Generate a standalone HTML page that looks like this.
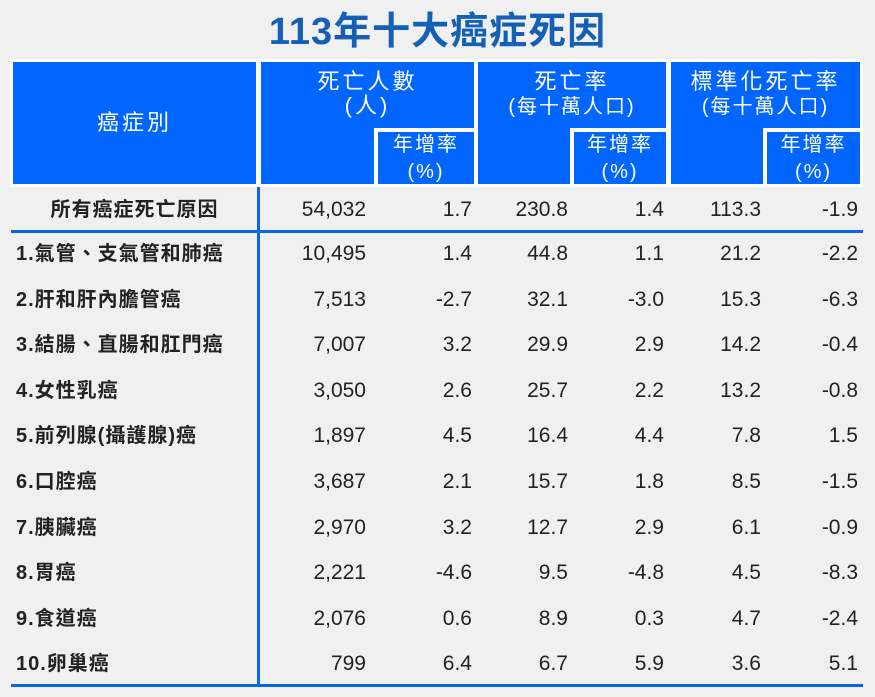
<!DOCTYPE html>
<html><head><meta charset="utf-8">
<style>
body{margin:0;width:875px;height:697px;background:#f0f0f0;font-family:"Liberation Sans","Noto Sans CJK TC",sans-serif;position:relative;overflow:hidden}
.a{position:absolute}
.title{left:0;width:875px;top:0px;text-align:center;font-size:38px;font-weight:bold;color:#1460b4;letter-spacing:1px}
.hdr{left:10px;top:59px;width:853px;height:128px;background:#fff}
.b{position:absolute;background:#0066ff;color:#fff;text-align:center;font-size:22px;line-height:24px;letter-spacing:3px}
.sb{font-size:20px;letter-spacing:2px}
.cell{position:absolute;font-size:21px;color:#222;line-height:24px}
.lbl{font-size:20px;letter-spacing:1px;font-weight:bold}
.r{text-align:right}
.line{position:absolute;background:#0a66e8}
</style></head><body>
<div class="a title">113年十大癌症死因</div>
<div class="a hdr"></div>
<div class="b" style="left:13px;top:62px;width:243px;height:122px;line-height:122px">癌症別</div>
<div class="b" style="left:261px;top:62px;width:213px;height:122px"><div style="padding-top:8px">死亡人數<br>(人)</div></div>
<div class="b" style="left:478px;top:62px;width:188px;height:122px"><div style="padding-top:8px">死亡率<br><span style="font-size:20px;letter-spacing:2px">(每十萬人口)</span></div></div>
<div class="b" style="left:671px;top:62px;width:189px;height:122px"><div style="padding-top:8px">標準化死亡率<br><span style="font-size:20px;letter-spacing:2px">(每十萬人口)</span></div></div>
<div class="a" style="left:374px;top:128px;width:103px;height:4px;background:#fff"></div>
<div class="a" style="left:374px;top:128px;width:4px;height:57px;background:#fff"></div>
<div class="b sb" style="left:378px;top:132px;width:96px;height:52px;line-height:27px">年增率<br>(%)</div>
<div class="a" style="left:570px;top:128px;width:100px;height:4px;background:#fff"></div>
<div class="a" style="left:570px;top:128px;width:4px;height:57px;background:#fff"></div>
<div class="b sb" style="left:574px;top:132px;width:92px;height:52px;line-height:27px">年增率<br>(%)</div>
<div class="a" style="left:763px;top:128px;width:100px;height:4px;background:#fff"></div>
<div class="a" style="left:763px;top:128px;width:4px;height:57px;background:#fff"></div>
<div class="b sb" style="left:767px;top:132px;width:93px;height:52px;line-height:27px">年增率<br>(%)</div>
<div class="line" style="left:257px;top:187px;width:3px;height:499px"></div>
<div class="line" style="left:11px;top:230px;width:852px;height:3px"></div>
<div class="line" style="left:11px;top:684px;width:852px;height:3px"></div>
<div id="rows"></div>
<script>
const names=["所有癌症死亡原因","1.氣管、支氣管和肺癌","2.肝和肝內膽管癌","3.結腸、直腸和肛門癌","4.女性乳癌","5.前列腺(攝護腺)癌","6.口腔癌","7.胰臟癌","8.胃癌","9.食道癌","10.卵巢癌"];
const deaths=["54,032","10,495","7,513","7,007","3,050","1,897","3,687","2,970","2,221","2,076","799"];
const deathsGrowth=["1.7","1.4","-2.7","3.2","2.6","4.5","2.1","3.2","-4.6","0.6","6.4"];
const rate=["230.8","44.8","32.1","29.9","25.7","16.4","15.7","12.7","9.5","8.9","6.7"];
const rateGrowth=["1.4","1.1","-3.0","2.9","2.2","4.4","1.8","2.9","-4.8","0.3","5.9"];
const stdRate=["113.3","21.2","15.3","14.2","13.2","7.8","8.5","6.1","4.5","4.7","3.6"];
const stdGrowth=["-1.9","-2.2","-6.3","-0.4","-0.8","1.5","-1.5","-0.9","-8.3","-2.4","5.1"];
const cols=[deaths,deathsGrowth,rate,rateGrowth,stdRate,stdGrowth];
const rights=[366,472,568,664,761,858];
const cont=document.getElementById('rows');
function yc(i){return i===0?210:254+(i-1)*45.6;}
names.forEach((n,i)=>{
  const d=document.createElement('div');d.className='cell lbl';
  
  
  d.style.top=(yc(i)-12)+'px';
  if(i===0){d.style.left='13px';d.style.width='243px';d.style.textAlign='center';}else{d.style.left='16px';}
  d.textContent=n;cont.appendChild(d);
  cols.forEach((c,j)=>{
    const e=document.createElement('div');e.className='cell r';
    
    
    e.style.top=(yc(i)-12)+'px';e.style.left=(rights[j]-100)+'px';e.style.width='100px';
    e.textContent=c[i];cont.appendChild(e);
  });
});
</script>
</body></html>
